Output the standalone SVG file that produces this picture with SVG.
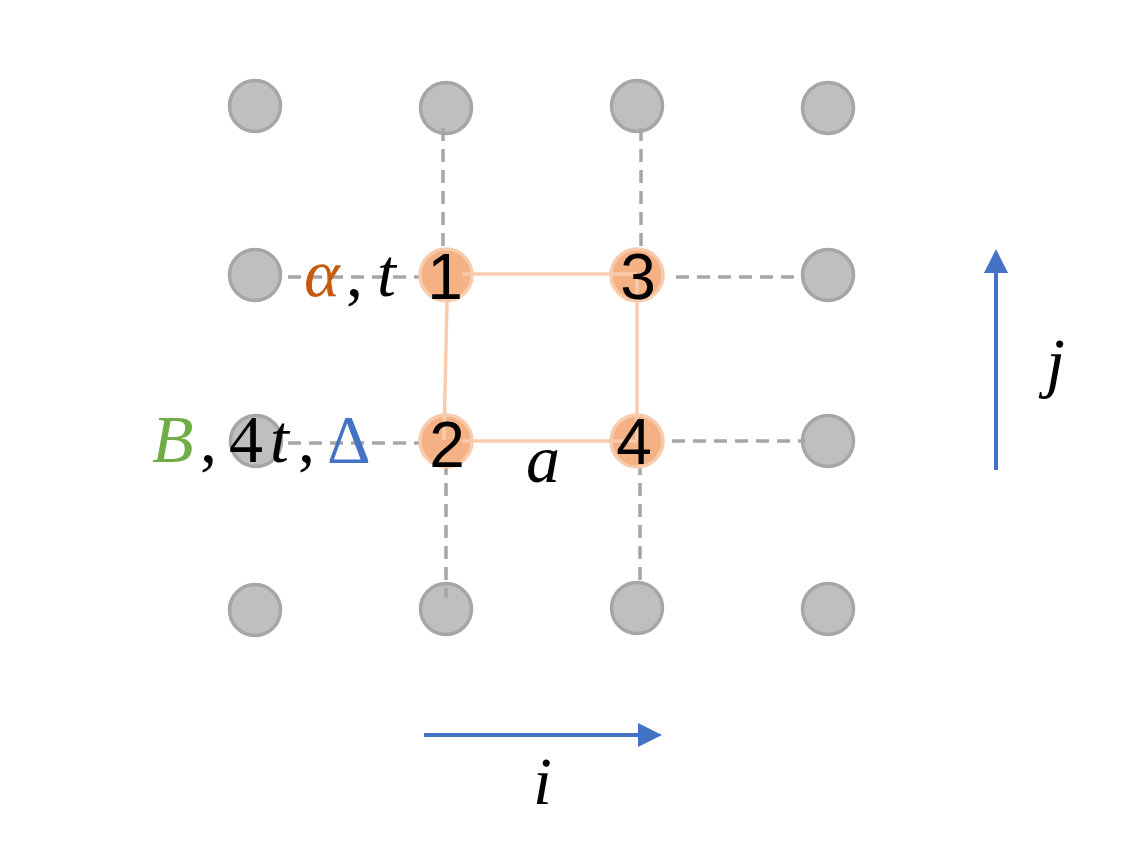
<svg xmlns="http://www.w3.org/2000/svg" width="1145" height="853" viewBox="0 0 1145 853">
<defs>
<style>
.g{fill:#BFBFBF;stroke:#A6A6A6;stroke-width:3.5}
.o{fill:#F4B183;stroke:#F8CBAD;stroke-width:3.5}
.d{stroke:#A6A6A6;stroke-width:3.5;stroke-dasharray:13 8;fill:none}
.s{stroke:#F8CBAD;stroke-width:3.5;fill:none}
.ax{stroke:#4472C4;stroke-width:4;fill:none}
.ah{fill:#4472C4}
.num{font-family:"Liberation Sans",Arial,sans-serif;font-size:64px;fill:#000;text-anchor:middle}
.m{font-family:"Liberation Serif","Times New Roman",serif;font-size:68px;font-style:italic;fill:#000}
.u{font-style:normal}
</style>
</defs>
<rect width="1145" height="853" fill="#FFFFFF"/>
<g id="grid">
<circle id="n-r1c1" class="g" cx="255" cy="106" r="25.5"/>
<circle id="n-r1c2" class="g" cx="446" cy="108" r="25.5"/>
<circle id="n-r1c3" class="g" cx="637" cy="106" r="25.5"/>
<circle id="n-r1c4" class="g" cx="828" cy="108" r="25.5"/>
<circle id="n-r2c1" class="g" cx="255" cy="275" r="25.5"/>
<circle id="n-r2c4" class="g" cx="828" cy="275" r="25.5"/>
<circle id="n-r3c1" class="g" cx="256" cy="441" r="25.5"/>
<circle id="n-r3c4" class="g" cx="828" cy="441" r="25.5"/>
<circle id="n-r4c1" class="g" cx="255" cy="610" r="25.5"/>
<circle id="n-r4c2" class="g" cx="446" cy="609" r="25.5"/>
<circle id="n-r4c3" class="g" cx="637" cy="608" r="25.5"/>
<circle id="n-r4c4" class="g" cx="828" cy="609" r="25.5"/>
</g>
<g id="connectors">
<line class="d" x1="443" y1="128" x2="443" y2="250"/>
<line class="d" x1="641" y1="128" x2="641" y2="250"/>
<line class="d" x1="288" y1="277" x2="420" y2="277"/>
<line class="d" x1="676" y1="277" x2="805" y2="277"/>
<line class="d" x1="288" y1="443" x2="420" y2="443"/>
<line class="d" x1="672" y1="441" x2="805" y2="441"/>
<line class="d" x1="446" y1="462" x2="446" y2="598"/>
<line class="d" x1="640" y1="462" x2="640" y2="586"/>
</g>
<g id="n1"><circle class="o" cx="446" cy="275" r="26"/></g>
<g id="n3"><circle class="o" cx="637" cy="275" r="26"/></g>
<g id="n2"><circle class="o" cx="446" cy="441" r="26"/></g>
<g id="n4"><circle class="o" cx="637" cy="441" r="26"/></g>
<g id="edges">
<line class="s" x1="462" y1="274" x2="637" y2="274"/>
<line class="s" x1="447" y1="300" x2="444" y2="440"/>
<line class="s" x1="462" y1="441" x2="637" y2="441"/>
<line class="s" x1="637" y1="275" x2="637" y2="441"/>
</g>
<g id="labels">
<text class="num" x="445" y="299">1</text>
<text class="num" x="638" y="299">3</text>
<text class="num" x="447" y="467">2</text>
<text class="num" x="634" y="464">4</text>
<text class="m" y="296"><tspan x="304" fill="#C55A11">α</tspan><tspan x="346" class="u">,</tspan><tspan x="377">t</tspan></text>
<text class="m" y="462"><tspan x="152" fill="#70AD47">B</tspan><tspan x="200" class="u">,</tspan><tspan x="229" class="u">4</tspan><tspan x="270">t</tspan><tspan x="298" class="u">,</tspan><tspan x="327" class="u" fill="#4472C4">Δ</tspan></text>
<text class="m" x="526" y="482">a</text>
<text class="m" x="533" y="804">i</text>
<text class="m" x="1046" y="385">j</text>
</g>
<g id="axes">
<line class="ax" x1="424" y1="735" x2="642" y2="735"/>
<polygon class="ah" points="638,723 662,735 638,747"/>
<line class="ax" x1="996" y1="470" x2="996" y2="268"/>
<polygon class="ah" points="984,273 996,249 1008,273"/>
</g>
</svg>
